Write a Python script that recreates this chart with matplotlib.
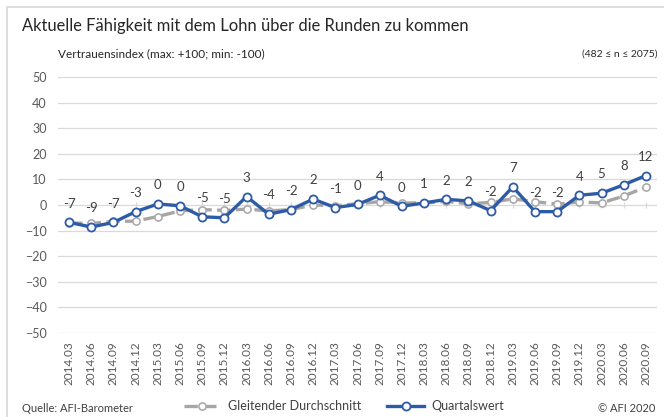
import numpy as np
import matplotlib
matplotlib.use("Agg")
import matplotlib.pyplot as plt
from matplotlib.lines import Line2D
from matplotlib.patches import Rectangle

plt.rcParams['font.family'] = ['Lato', 'DejaVu Sans']

quarters = ["2014.03", "2014.06", "2014.09", "2014.12",
            "2015.03", "2015.06", "2015.09", "2015.12",
            "2016.03", "2016.06", "2016.09", "2016.12",
            "2017.03", "2017.06", "2017.09", "2017.12",
            "2018.03", "2018.06", "2018.09", "2018.12",
            "2019.03", "2019.06", "2019.09", "2019.12",
            "2020.03", "2020.06", "2020.09"]

quartalswert = [-6.8, -8.6, -6.8, -2.6, 0.4, -0.3, -4.6, -5.0, 3.3, -3.6, -1.8, 2.3, -1.0, 0.2,
                3.8, -0.5, 0.8, 2.2, 1.6, -2.2, 7.1, -2.6, -2.6, 3.8, 4.6, 7.9, 11.5]
quartal_labels = [-7, -9, -7, -3, 0, 0, -5, -5, 3, -4, -2, 2, -1, 0,
                  4, 0, 1, 2, 2, -2, 7, -2, -2, 4, 5, 8, 12]
gleitend = [-7.0, -7.2, -6.4, -6.3, -4.5, -2.3, -1.8, -2.1, -1.6, -2.3, -1.8, 0.0, -0.3, 0.5,
            1.3, 0.8, 0.8, 1.4, 0.5, 1.0, 2.4, 1.3, 0.3, 1.2, 0.8, 3.5, 7.0]

BLUE = "#2E5BA6"
GRAY = "#A6A6A6"
GRID = "#D9D9D9"
TXT = "#595959"

fig = plt.figure(figsize=(6.64, 4.17), dpi=100)
ax = fig.add_axes([58 / 664, 1 - 333 / 417, 599 / 664, 256 / 417])

x = np.arange(len(quarters))

# grid + category axis at zero
for v in range(-50, 51, 10):
    ax.axhline(v, color=GRID, lw=0.9, zorder=0)
ax.vlines(x, -1.3, 1.3, color=GRID, lw=0.9, zorder=0)

ax.plot(x, gleitend, color=GRAY, lw=2.4, dashes=(4, 1.6), marker="o", ms=5.2,
        mfc="white", mec=GRAY, mew=1.1, zorder=2)
ax.plot(x, quartalswert, color=BLUE, lw=2.4, marker="o", ms=5.8,
        mfc="white", mec=BLUE, mew=1.3, zorder=3)

for xi, yi, lab in zip(x, quartalswert, quartal_labels):
    ax.annotate(f"{lab}", (xi, yi), xytext=(0, 13.5), textcoords="offset points",
                ha="center", va="center", fontsize=9.5, color="#404040")

ax.set_xlim(-0.5, len(quarters) - 0.5)
ax.set_ylim(-50, 50)
ax.set_yticks(range(-50, 51, 10))
ax.set_xticks(x)
ax.set_xticklabels(quarters, rotation=90, fontsize=8.5, color=TXT)
ax.tick_params(axis="y", length=0, labelsize=9, labelcolor=TXT, pad=8)
ax.tick_params(axis="x", length=0, pad=6)
for s in ax.spines.values():
    s.set_visible(False)

# chart area border (top and left visible)
fig.add_artist(Rectangle((7 / 664, -0.1), 1.2, 1.1 - 7 / 417, transform=fig.transFigure,
                         fill=False, ec=GRID, lw=1.2))

fig.text(22 / 664, 1 - 26 / 417, "Aktuelle Fähigkeit mit dem Lohn über die Runden zu kommen",
         fontsize=11.9, color="#262626", va="center", ha="left")
fig.text(58 / 664, 1 - 54 / 417, "Vertrauensindex (max: +100; min: -100)",
         fontsize=8.5, color="#262626", va="center", ha="left")
fig.text(657 / 664, 1 - 54 / 417, "(482 ≤ n ≤ 2075)",
         fontsize=7.5, color="#262626", va="center", ha="right")
fig.text(22 / 664, 1 - 408 / 417, "Quelle: AFI-Barometer",
         fontsize=8, color="#404040", va="center", ha="left")
fig.text(655 / 664, 1 - 408 / 417, "© AFI 2020",
         fontsize=8, color="#404040", va="center", ha="right")

handles = [Line2D([], [], color=GRAY, lw=2.4, dashes=(4, 1.6), marker="o", ms=5.2,
                  mfc="white", mec=GRAY, mew=1.1),
           Line2D([], [], color=BLUE, lw=2.4, marker="o", ms=5.8,
                  mfc="white", mec=BLUE, mew=1.3)]
fig.legend(handles, ["Gleitender Durchschnitt", "Quartalswert"], loc="center",
           bbox_to_anchor=(344 / 664, 1 - 406 / 417), ncol=2, frameon=False,
           fontsize=9, handlelength=3, columnspacing=2.0, handletextpad=0.6,
           labelcolor="#404040")

fig.savefig("out.png", dpi=100)
